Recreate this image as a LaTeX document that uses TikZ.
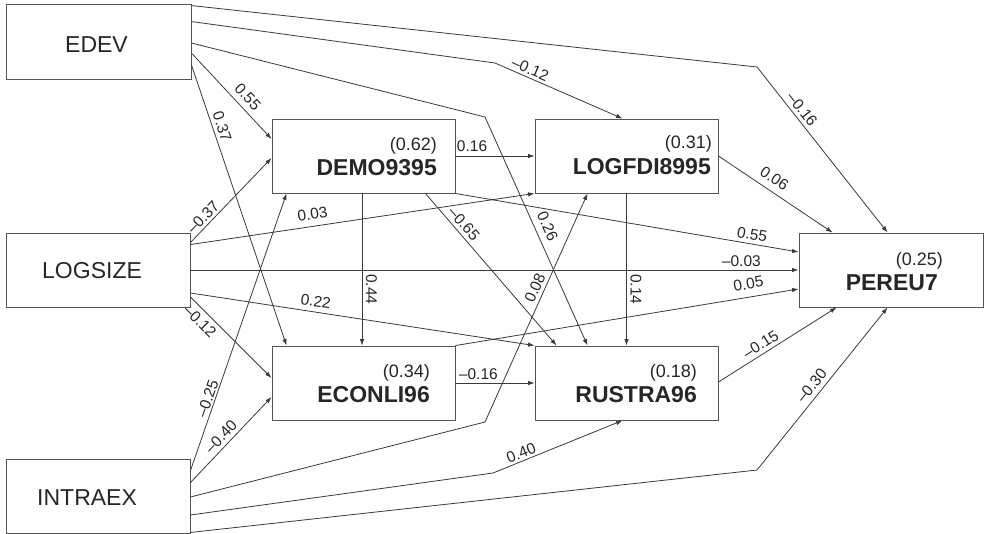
\documentclass[tikz,border=0pt]{standalone}
\usepackage{fontspec}
\setmainfont{Liberation Sans}
\usetikzlibrary{arrows.meta,calc}
\definecolor{linec}{HTML}{3A3A3A}
\definecolor{boxc}{HTML}{555555}
\definecolor{txtc}{HTML}{262626}
\begin{document}
\begin{tikzpicture}[x=1pt,y=-1pt,
  box/.style={draw=boxc, line width=0.9pt, minimum width=183pt, minimum height=74pt, inner sep=0pt},
  exoname/.style={text=txtc, inner sep=0pt, anchor=base west, font=\fontsize{23}{27}\selectfont},
  endoname/.style={text=txtc, inner sep=0pt, anchor=base east, font=\bfseries\fontsize{23}{27}\selectfont},
  rsq/.style={text=txtc, inner sep=0pt, anchor=base east, font=\fontsize{18}{21}\selectfont},
  arr/.style={draw=linec, line width=0.8pt, -{Latex[length=6.5pt,width=4.5pt]}},
  lab/.style={text=txtc, inner sep=1.5pt, font=\fontsize{15.5}{18}\selectfont}
]
\fill[white] (0,0) rectangle (984,533);
\useasboundingbox (0,0) rectangle (984,533);

% boxes
\node[box, minimum width=185pt, minimum height=75pt] (edev) at (98.5,41.5) {};
\node[box, minimum width=184pt] (logsize) at (98,270) {};
\node[box, minimum width=184pt] (intraex) at (98,496) {};
\node[box] (demo) at (363.5,156) {};
\node[box] (logfdi) at (626.5,156) {};
\node[box] (econli) at (363.5,383) {};
\node[box] (rustra) at (626.5,383) {};
\node[box, minimum width=184pt] (pereu) at (891,270) {};

% names
\node[exoname] (edevname) at (65,52) {EDEV};
\node[exoname] (logsizename) at (42,278) {LOGSIZE};
\node[exoname] (intraexname) at (37,505) {INTRAEX};
\node[endoname] (demoname) at (437,175) {DEMO9395};
\node[endoname] (logfdiname) at (711,174) {LOGFDI8995};
\node[endoname] (econliname) at (430,402) {ECONLI96};
\node[endoname] (rustraname) at (697,402) {RUSTRA96};
\node[endoname] (pereuname) at (938,290) {PEREU7};
\node[rsq] (demorsq) at (437,150) {(0.62)};
\node[rsq] (logfdirsq) at (712,148) {(0.31)};
\node[rsq] (econlirsq) at (430,377) {(0.34)};
\node[rsq] (rustrarsq) at (697,377) {(0.18)};
\node[rsq] (pereursq) at (943,265) {(0.25)};

% bend points
\coordinate (b1) at (757,67);
\coordinate (b2) at (495,63);
\coordinate (b3) at (485,117);
\coordinate (b22) at (485,422);
\coordinate (b23) at (493,473);
\coordinate (b24) at (757,470);

% connectors from EDEV
\draw[arr] ($(edev.north east)+(0,2)$) -- (b1) -- node[lab,pos=0.29,sloped,above=2pt]{--0.16} ($(pereu.north west)+(89,0)$);
\draw[arr] ($(edev.north east)+(0,18)$) -- (b2) -- node[lab,pos=0.25,sloped,above=1pt]{--0.12} ($(logfdi.north west)+(88,0)$);
\draw[arr] ($(edev.east)+(0,1.5)$) -- (b3) -- node[lab,pos=0.5,sloped,above=5pt]{0.26} ($(rustra.north west)+(53,0)$);
\draw[arr] ($(edev.east)+(0,11.5)$) -- node[lab,pos=0.6,sloped,above=4pt]{0.55} ($(demo.west)+(0,-17)$);
\draw[arr] ($(edev.east)+(0,23.5)$) -- node[lab,pos=0.23,sloped,above=2pt]{0.37} ($(econli.north west)+(15,0)$);

% connectors from LOGSIZE
\draw[arr] ($(logsize.north east)+(0,10)$) -- node[lab,pos=0.23,sloped,above=1pt]{--0.37} ($(demo.west)+(0,2)$);
\draw[arr] ($(logsize.north east)+(0,12)$) -- node[lab,pos=0.36,sloped,above=5pt]{0.03} (logfdi.south west);
\draw[arr] (logsize.east) -- node[lab,pos=0.906,above=1pt]{--0.03} (pereu.west);
\draw[arr] ($(logsize.east)+(0,23)$) -- node[lab,pos=0.36,sloped,above=3pt]{0.22} (rustra.north west);
\draw[arr] ($(logsize.east)+(0,27)$) -- node[lab,pos=0.21,sloped,below=3pt]{--0.12} ($(econli.west)+(0,-5)$);

% connectors among endogenous
\draw[arr] (demo.south east) -- node[lab,pos=0.86,sloped,above=2pt]{0.55} ($(pereu.west)+(0,-18)$);
\draw[arr] (econli.north east) -- node[lab,pos=0.86,sloped,above=6pt]{0.05} ($(pereu.west)+(0,19)$);
\draw[arr] ($(demo.south)+(-1.5,0)$) -- node[lab,pos=0.63,anchor=south,rotate=-90,yshift=2pt]{0.44} ($(econli.north)+(-1.5,0)$);
\draw[arr] ($(demo.south east)+(-30,0)$) -- node[lab,pos=0.24,sloped,above=2pt]{--0.65} ($(rustra.north west)+(22,0)$);
\draw[arr] (demo.east) -- node[lab,pos=0.21,above=2pt]{0.16} (logfdi.west);
\draw[arr] (logfdi.south) -- node[lab,pos=0.63,anchor=south,rotate=-90,yshift=2pt]{0.14} (rustra.north);
\draw[arr] (logfdi.east) -- node[lab,pos=0.43,sloped,above=5pt]{0.06} ($(pereu.north west)+(34,0)$);
\draw[arr] (econli.east) -- node[lab,pos=0.29,above=1pt]{--0.16} (rustra.west);
\draw[arr] ($(rustra.east)+(0,-1)$) -- node[lab,pos=0.4,sloped,above=2pt]{--0.15} ($(pereu.south west)+(38,0)$);

% connectors from INTRAEX
\draw[arr] ($(intraex.north east)+(0,12)$) -- node[lab,pos=0.25,sloped,above=0pt]{--0.25} ($(demo.south west)+(15,0)$);
\draw[arr] ($(intraex.north east)+(0,24)$) -- node[lab,pos=0.46,sloped,above=2pt]{--0.40} ($(econli.west)+(0,14)$);
\draw[arr] ($(intraex.east)+(0,1)$) -- (b22) -- node[lab,pos=0.57,sloped,above=2pt]{0.08} ($(logfdi.south west)+(53,0)$);
\draw[arr] ($(intraex.east)+(0,19)$) -- (b23) -- node[lab,pos=0.24,sloped,above=0.5pt]{0.40} ($(rustra.south west)+(88,0)$);
\draw[arr] ($(intraex.south east)+(0,-1)$) -- (b24) -- node[lab,pos=0.48,sloped,above=3pt]{--0.30} ($(pereu.south west)+(89,0)$);
\end{tikzpicture}
\end{document}
